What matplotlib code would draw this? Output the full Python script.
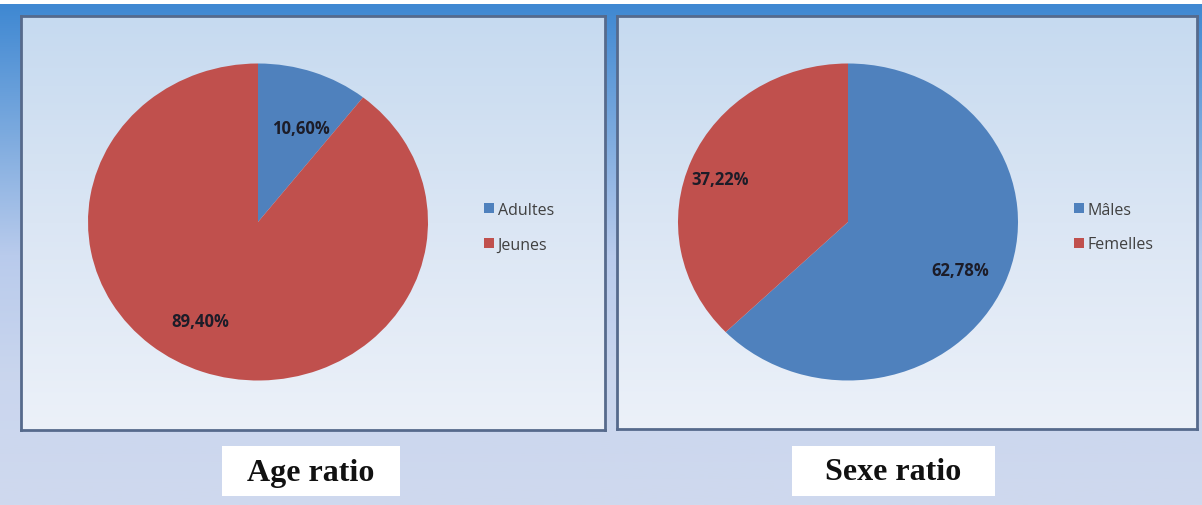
import numpy as np
import matplotlib.pyplot as plt
from matplotlib.patches import Rectangle, Patch
from matplotlib.colors import LinearSegmentedColormap

# Data
age_labels = ['Adultes', 'Jeunes']
age_values = [10.60, 89.40]
sex_labels = ['Mâles', 'Femelles']
sex_values = [62.78, 37.22]
titles = ['Age ratio', 'Sexe ratio']

blue = '#4f81bd'
red = '#c0504d'

W, H = 1202, 506
fig = plt.figure(figsize=(W / 100, H / 100), dpi=100)
fig.patch.set_facecolor('white')


def px_axes(x, y, w, h, **kw):
    # pixel box measured from the top-left corner
    return fig.add_axes([x / W, 1 - (y + h) / H, w / W, h / H], **kw)


# outer background gradient
bg = px_axes(0, 5, W, H - 5)
bg_cmap = LinearSegmentedColormap.from_list('bg', ['#3f88d2', '#7aa9de', '#b9cbec', '#cad6ee', '#cfd9ee'])
grad = np.linspace(0, 1, 256).reshape(-1, 1)
bg.imshow(grad, aspect='auto', cmap=bg_cmap, extent=[0, 1, 0, 1], origin='upper')
bg.axis('off')

panel_cmap = LinearSegmentedColormap.from_list('pn', ['#c6daf0', '#dbe6f4', '#ecf1f9'])


def panel(x, y, w, h):
    ax = px_axes(x, y, w, h)
    ax.imshow(grad, aspect='auto', cmap=panel_cmap, extent=[0, 1, 0, 1], origin='upper')
    ax.set_xticks([])
    ax.set_yticks([])
    for s in ax.spines.values():
        s.set_color('#566a8c')
        s.set_linewidth(2)
    return ax


panel(21, 17, 584, 414)
panel(617, 17, 580, 413)


def draw_pie(cx, cy, values, labels, lab_pos, leg_x, leg_y):
    rx, ry = 170, 158.5
    ax = px_axes(cx - rx, cy - ry, 2 * rx, 2 * ry)
    ax.pie(values, colors=[blue, red], startangle=90, counterclock=False,
           radius=1, wedgeprops=dict(edgecolor='none'))
    ax.set_aspect('auto')
    ax.set_xlim(-1, 1)
    ax.set_ylim(-1, 1)
    ax.axis('off')
    for v, (tx, ty) in zip(values, lab_pos):
        ax.text(tx, ty, f'{v:.2f}%'.replace('.', ','), ha='center', va='center',
                fontsize=12, fontweight='bold', color='#1c1c28', family='Open Sans')
    handles = [Patch(facecolor=c, edgecolor='none') for c in [blue, red]]
    fig.legend(handles, labels, loc='upper left',
               bbox_to_anchor=(leg_x / W, 1 - leg_y / H), frameon=False,
               borderpad=0, borderaxespad=0,
               handlelength=0.6, handleheight=0.6, handletextpad=0.25,
               labelspacing=1.15, labelcolor='#404040', prop={'family': 'Open Sans', 'size': 11.5})


draw_pie(258, 223, age_values, age_labels, [(0.25, 0.59), (-0.34, -0.625)], 484, 203)
draw_pie(848, 223, sex_values, sex_labels, [(0.66, -0.30), (-0.75, 0.27)], 1074, 203)

# title boxes
for (x0, x1), t in zip([(222, 400), (792, 995)], titles):
    fig.patches.append(Rectangle((x0 / W, 1 - 497 / H), (x1 - x0) / W, 50 / H,
                                 transform=fig.transFigure, facecolor='white', edgecolor='none'))
    fig.text((x0 + x1) / 2 / W, 1 - 473 / H, t, ha='center', va='center',
             fontsize=23, fontweight='bold', family='Liberation Serif', color='#111111')

fig.savefig('out.png', dpi=100)
